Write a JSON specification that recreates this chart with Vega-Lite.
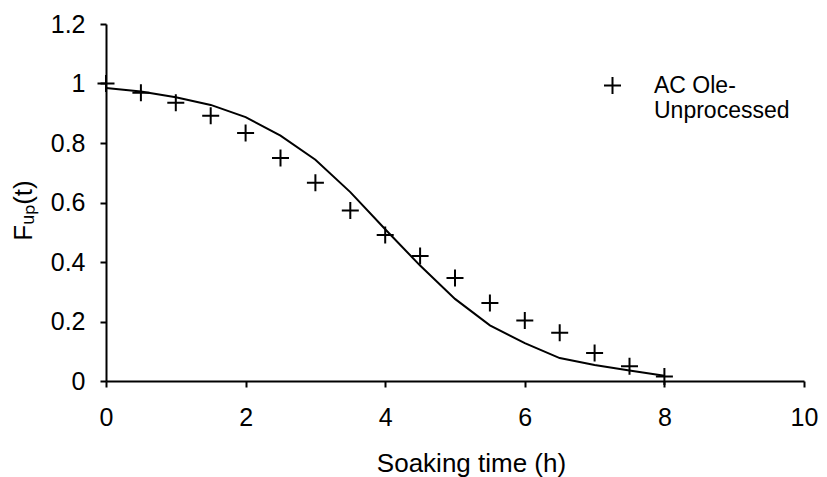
{
  "$schema": "https://vega.github.io/schema/vega-lite/v6.json",
  "description": "Fraction of unprocessed AC Ole against soaking time: measured points and fitted curve.",
  "autosize": "none",
  "width": 698,
  "height": 357,
  "padding": {"left": 106, "top": 24, "right": 23, "bottom": 96},
  "background": "white",
  "config": {
    "view": {"stroke": null},
    "font": "Liberation Sans",
    "axis": {
      "grid": false,
      "labelFlush": false,
      "domainColor": "black",
      "domainWidth": 2,
      "tickColor": "black",
      "tickWidth": 2,
      "tickSize": 6,
      "labelColor": "black",
      "labelFont": "Liberation Sans",
      "labelFontSize": 25,
      "titleColor": "black",
      "titleFont": "Liberation Sans",
      "titleFontSize": 26,
      "titleFontWeight": "normal"
    }
  },
  "data": {
    "values": [
      {"t": 0, "obs": 1.0, "fit": 0.985},
      {"t": 0.5, "obs": 0.969, "fit": 0.973},
      {"t": 1, "obs": 0.935, "fit": 0.954},
      {"t": 1.5, "obs": 0.892, "fit": 0.928},
      {"t": 2, "obs": 0.834, "fit": 0.887},
      {"t": 2.5, "obs": 0.75, "fit": 0.825},
      {"t": 3, "obs": 0.666, "fit": 0.744},
      {"t": 3.5, "obs": 0.573, "fit": 0.635},
      {"t": 4, "obs": 0.491, "fit": 0.51},
      {"t": 4.5, "obs": 0.42, "fit": 0.388},
      {"t": 5, "obs": 0.346, "fit": 0.276},
      {"t": 5.5, "obs": 0.262, "fit": 0.187},
      {"t": 6, "obs": 0.203, "fit": 0.127},
      {"t": 6.5, "obs": 0.162, "fit": 0.077},
      {"t": 7, "obs": 0.094, "fit": 0.054},
      {"t": 7.5, "obs": 0.05, "fit": 0.035},
      {"t": 8, "obs": 0.015, "fit": 0.018}
    ]
  },
  "encoding": {
    "x": {
      "field": "t",
      "type": "quantitative",
      "scale": {"domain": [0, 10], "nice": false},
      "axis": {
        "values": [0, 2, 4, 6, 8, 10],
        "format": "d",
        "labelPadding": 18,
        "title": "Soaking time (h)",
        "titleBaseline": "alphabetic",
        "titleAlign": "center",
        "titleX": 365,
        "titleY": 90
      }
    }
  },
  "layer": [
    {
      "mark": {"type": "line", "color": "black", "strokeWidth": 2},
      "encoding": {
        "y": {
          "field": "fit",
          "type": "quantitative",
          "scale": {"domain": [0, 1.2], "nice": false},
          "axis": {
            "values": [0, 0.2, 0.4, 0.6, 0.8, 1, 1.2],
            "format": "~g",
            "labelPadding": 15,
            "title": "Fᵤₚ(t)",
            "titleAngle": -90,
            "titleBaseline": "alphabetic",
            "titleAlign": "center",
            "titleX": -75,
            "titleY": 186
          }
        }
      }
    },
    {
      "mark": {
        "type": "point",
        "filled": false,
        "stroke": "black",
        "strokeWidth": 2,
        "size": 289,
        "opacity": 1
      },
      "encoding": {
        "y": {"field": "obs", "type": "quantitative"},
        "shape": {
          "datum": "AC Ole-Unprocessed",
          "scale": {"range": ["M-1,0L1,0M0,-1L0,1"]},
          "legend": {
            "title": null,
            "orient": "none",
            "legendX": 495,
            "legendY": 50,
            "padding": 0,
            "symbolSize": 289,
            "symbolStrokeColor": "black",
            "symbolStrokeWidth": 2,
            "symbolFillColor": "transparent",
            "symbolOpacity": 1,
            "labelFont": "Liberation Sans",
            "labelFontSize": 23,
            "labelColor": "black",
            "labelLimit": 300,
            "labelOffset": 30,
            "labelExpr": "['AC Ole-', 'Unprocessed']"
          }
        }
      }
    }
  ]
}
